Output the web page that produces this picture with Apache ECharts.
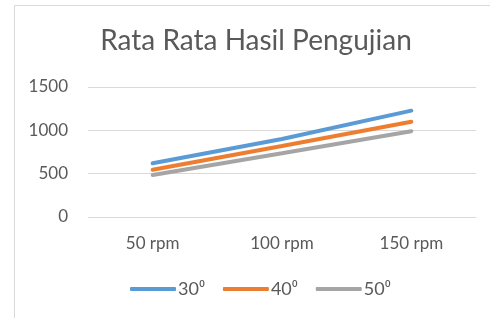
<!DOCTYPE html>
<html>
<head>
<meta charset="utf-8">
<script src="https://cdn.jsdelivr.net/npm/echarts@6/dist/echarts.min.js"></script>
<style>
  html, body { margin: 0; padding: 0; background: #ffffff; }
  #chart { width: 490px; height: 318px; }
</style>
</head>
<body>
<div id="chart"></div>
<script>
// rata rata hasil pengujian per kecepatan
const categories = ['50 rpm', '100 rpm', '150 rpm'];
const seriesNames = ['30⁰', '40⁰', '50⁰'];
const values30 = [620, 900, 1227];
const values40 = [545, 820, 1100];
const values50 = [485, 735, 990];
const yTicks = { min: 0, max: 1500, interval: 500 };

const colors = ['#5b9bd5', '#ed7d31', '#a5a5a5'];
const textGray = '#595959';

function lineSeries(name, data, color) {
  return {
    name: name,
    type: 'line',
    data: data,
    symbol: 'none',
    smooth: false,
    lineStyle: { width: 4, color: color, cap: 'round' },
    itemStyle: { color: color }
  };
}

const chart = echarts.init(document.getElementById('chart'), null, { renderer: 'canvas' });

chart.setOption({
  backgroundColor: '#ffffff',
  animation: false,
  title: {
    text: 'Rata Rata Hasil Pengujian',
    left: 256,
    textAlign: 'center',
    top: 27,
    padding: 0,
    textStyle: {
      fontFamily: 'Lato',
      fontWeight: 'normal',
      fontSize: 28,
      color: textGray
    }
  },
  graphic: [
    {
      type: 'rect',
      shape: { x: 14.5, y: 5.5, width: 520, height: 400 },
      style: { fill: 'none', stroke: '#d9d9d9', lineWidth: 1 },
      silent: true
    },
    {
      // caption of the page above, cut off at the top
      type: 'text',
      left: 119,
      top: -29,
      style: {
        text: 'Hasil Pengujian',
        font: '28px "Liberation Serif"',
        fill: '#000000'
      },
      silent: true
    }
  ],
  legend: {
    data: seriesNames,
    bottom: 15,
    left: 125,
    icon: 'roundRect',
    itemWidth: 46,
    itemHeight: 4,
    itemGap: 18,
    textStyle: { fontFamily: 'Lato', fontSize: 18, color: textGray, padding: [0, 0, 0, -3] }
  },
  grid: { left: 88, right: 14, top: 87, bottom: 101, containLabel: false },
  xAxis: {
    type: 'category',
    data: categories,
    boundaryGap: true,
    axisLine: { show: false },
    axisTick: { show: false },
    axisLabel: { fontFamily: 'Lato', fontSize: 17, color: textGray, margin: 18 }
  },
  yAxis: {
    type: 'value',
    min: yTicks.min,
    max: yTicks.max,
    interval: yTicks.interval,
    axisLine: { show: false },
    axisTick: { show: false },
    axisLabel: {
      fontFamily: 'Lato',
      fontSize: 17,
      color: textGray,
      margin: 20,
      formatter: function (v) { return String(v); }
    },
    splitLine: { lineStyle: { color: '#d9d9d9', width: 1 } }
  },
  series: [
    lineSeries(seriesNames[0], values30, colors[0]),
    lineSeries(seriesNames[1], values40, colors[1]),
    lineSeries(seriesNames[2], values50, colors[2])
  ]
});
</script>
</body>
</html>
